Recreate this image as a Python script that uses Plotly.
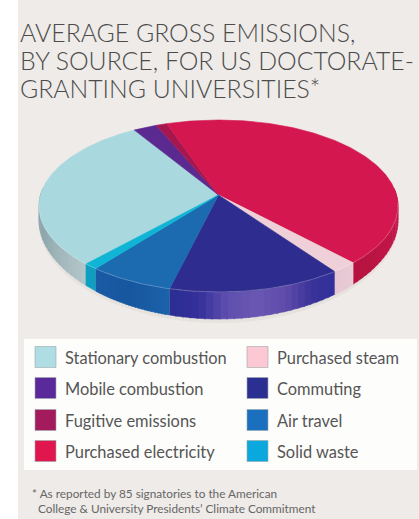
import numpy as np
import plotly.graph_objects as go

# ---- data ----
categories = ["Stationary combustion", "Mobile combustion", "Fugitive emissions",
              "Purchased electricity", "Purchased steam", "Commuting", "Air travel", "Solid waste"]
values = [29.4, 2.4, 1.1, 43.2, 2.1, 13.8, 6.8, 1.1]
top_colors = ["#a9d9df", "#5b2a90", "#a5184f", "#d4174f", "#efd0d9", "#2e2d8f", "#1c6ab0", "#10b5d5"]
legend_colors = ["#aedde3", "#5a2a9a", "#a31b5c", "#e0174f", "#fbc8d3", "#2c2f92", "#1a6fbf", "#0aa8dc"]
wall_colors = [["#b4c6ca", "#8da7ad", "#86a2a9"], ["#4a2078"], ["#8a1442"],
               ["#b8143f", "#c3164a", "#b5123f"], ["#e8ccd6", "#e6c6d2"],
               ["#30309a", "#3a3299", "#5f4cab", "#6a57b3", "#5f4fae", "#34309a", "#2b2e93"],
               ["#1b62ab", "#17579f", "#1a5ba6"], ["#0e9fc0"]]
title_lines = ["AVERAGE GROSS EMISSIONS,", "BY SOURCE, FOR US DOCTORATE-", "GRANTING UNIVERSITIES*"]
footnote_lines = ["* As reported by 85 signatories to the American",
                  "College &amp; University Presidents’ Climate Commitment"]
start_angle = 222.4

# ---- pie geometry (a perspective view of a disc) ----
CX, CY, F, A, K = 218.5, 195, 178, 84.6, 0.128
ink = "#4c4c4c"


def project(deg):
    t = np.radians(deg)
    X, Y = np.sin(t), np.cos(t)
    return CX + F * X / (1 + K * Y), CY - A * Y / (1 + K * Y), Y


def arc(a0, a1):
    n = max(3, int(abs(a1 - a0) * 1.5))
    return np.linspace(a0, a1, n)


def hex_rgb(c):
    return tuple(int(c[i:i + 2], 16) for i in (1, 3, 5))


def mix(stops, f):
    if len(stops) == 1:
        return stops[0]
    p = f * (len(stops) - 1)
    i = min(int(p), len(stops) - 2)
    a, b = hex_rgb(stops[i]), hex_rgb(stops[i + 1])
    u = p - i
    return "rgb(%d,%d,%d)" % tuple(round(a[j] + (b[j] - a[j]) * u) for j in range(3))


total = sum(values)
edges = start_angle + np.cumsum([0] + values) / total * 360

fig = go.Figure()


def depth(Y):
    return 15 + 12 * np.minimum(Y, 0) ** 2


# soft shadow below the disc
x, y, Y = project(arc(85, 275))
fig.add_trace(go.Scatter(x=np.r_[x, x[::-1]], y=np.r_[y, (y + depth(Y) + 4)[::-1]], mode="lines", fill="toself",
                         fillcolor="#e6e2de", line=dict(width=0), name="shadow", hoverinfo="skip", showlegend=False))

# side walls (only the part facing the viewer)
for i, name in enumerate(categories):
    lo, hi = edges[i], edges[i + 1]
    segs = []
    for shift in (0, 360, -360):
        a0, a1 = max(lo + shift, 85), min(hi + shift, 275)
        if a1 > a0:
            segs.append((a0, a1))
    for a0, a1 in segs:
        n = 24 if len(wall_colors[i]) > 1 else 1
        cuts = np.linspace(a0, a1, n + 1)
        for j in range(n):
            x, y, Y = project(arc(cuts[j], min(cuts[j + 1] + 0.5, a1)))
            c = mix(wall_colors[i], (j + .5) / n)
            fig.add_trace(go.Scatter(
                x=np.r_[x, x[::-1]], y=np.r_[y, (y + depth(Y))[::-1]], mode="lines", fill="toself",
                fillcolor=c, line=dict(width=0.5, color=c), name=name, hoverinfo="skip", showlegend=False))

# top surface
for i, name in enumerate(categories):
    x, y, _ = project(arc(edges[i], edges[i + 1]))
    fig.add_trace(go.Scatter(
        x=np.r_[CX, x, CX], y=np.r_[CY, y, CY], mode="lines", fill="toself",
        fillcolor=top_colors[i], line=dict(width=0.6, color=top_colors[i]),
        name=name, hoverinfo="name", showlegend=False))

# light highlight on the front rim
x, y, _ = project(arc(95, 265))
fig.add_trace(go.Scatter(x=x, y=y, mode="lines", line=dict(width=1, color="rgba(255,255,255,0.22)"),
                         name="rim", hoverinfo="skip", showlegend=False))

# panel and legend box
shapes = [
    dict(type="rect", xref="x", yref="y", x0=18, x1=419, y0=0, y1=519, layer="below",
         fillcolor="#eeebe8", line_width=0),
    dict(type="rect", xref="x", yref="y", x0=24, x1=417, y0=339, y1=470, layer="below",
         fillcolor="#fdfdfc", line_width=0),
]
annotations = []
for t, yy in zip(title_lines, (32, 60, 88)):
    annotations.append(dict(x=18, y=yy, xref="x", yref="y", text=t, showarrow=False, xanchor="left",
                            yanchor="middle", font=dict(family="Lato", size=24.8, color=ink, weight=300)))
rows = [357, 388, 420, 451]
for i, name in enumerate(categories):
    col_x = 35 if i < 4 else 247
    yy = rows[i % 4]
    shapes.append(dict(type="rect", xref="x", yref="y", x0=col_x, x1=col_x + 21, y0=yy - 10.5, y1=yy + 10.5,
                       fillcolor=legend_colors[i], line=dict(width=0.6, color="#9aa8aa"), layer="above"))
    annotations.append(dict(x=col_x + 27.5, y=yy, xref="x", yref="y", text=name, showarrow=False, xanchor="left",
                            yanchor="middle", font=dict(family="Lato", size=16.4, color="#555555")))
for t, xx, yy in zip(footnote_lines, (30, 36), (493, 508)):
    annotations.append(dict(x=xx, y=yy, xref="x", yref="y", text=t, showarrow=False, xanchor="left",
                            yanchor="middle", font=dict(family="Lato", size=11.8, color="#666666")))

fig.update_layout(
    width=419, height=519, margin=dict(l=0, r=0, t=0, b=0),
    paper_bgcolor="#ffffff", plot_bgcolor="rgba(0,0,0,0)", showlegend=False,
    xaxis=dict(range=[0, 419], visible=False, fixedrange=True),
    yaxis=dict(range=[519, 0], visible=False, fixedrange=True),
    shapes=shapes, annotations=annotations,
)
fig.write_html("out.html", config={"displayModeBar": False},
               post_script="document.body.style.margin='0';document.body.style.overflow='hidden';")
